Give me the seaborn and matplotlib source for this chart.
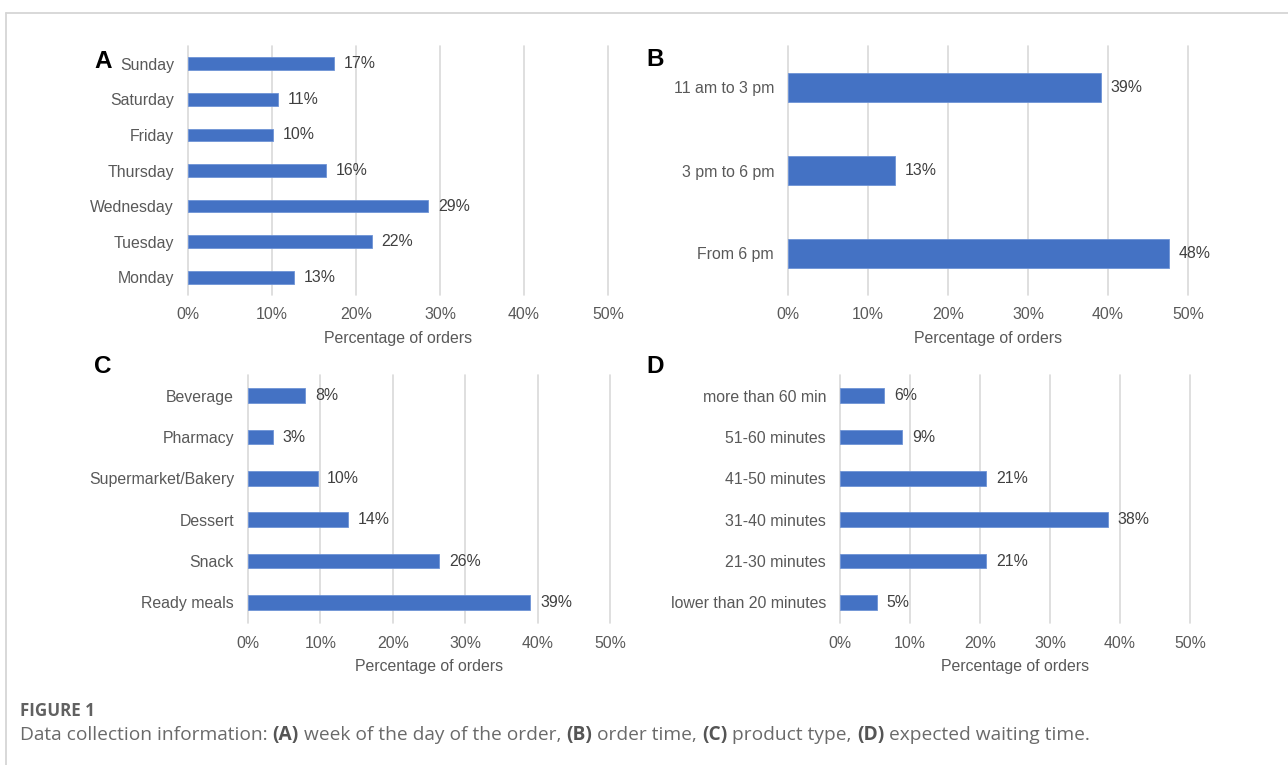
import matplotlib
matplotlib.use("Agg")
import matplotlib.pyplot as plt
import seaborn as sns
import pandas as pd
from matplotlib.lines import Line2D
from matplotlib.font_manager import FontProperties

# ---------------- data ----------------
days = ["Sunday", "Saturday", "Friday", "Thursday", "Wednesday", "Tuesday", "Monday"]
days_pct = [17.4, 10.7, 10.1, 16.4, 28.6, 21.9, 12.6]

times = ["11 am to 3 pm", "3 pm to 6 pm", "From 6 pm"]
times_pct = [39.1, 13.4, 47.6]

products = ["Beverage", "Pharmacy", "Supermarket/Bakery", "Dessert", "Snack", "Ready meals"]
products_pct = [7.9, 3.4, 9.6, 13.8, 26.4, 39.0]

waits = ["more than 60 min", "51-60 minutes", "41-50 minutes", "31-40 minutes",
         "21-30 minutes", "lower than 20 minutes"]
waits_pct = [6.3, 8.9, 20.9, 38.3, 20.9, 5.3]

x_ticks = [0, 10, 20, 30, 40, 50]
x_tick_labels = ["0%", "10%", "20%", "30%", "40%", "50%"]
x_label = "Percentage of orders"
panel_letters = ["A", "B", "C", "D"]

caption_title = "FIGURE 1"
caption_parts = [
    ("Data collection information: ", "normal"),
    ("(A)", "bold"),
    (" week of the day of the order, ", "normal"),
    ("(B)", "bold"),
    (" order time, ", "normal"),
    ("(C)", "bold"),
    (" product type, ", "normal"),
    ("(D)", "bold"),
    (" expected waiting time.", "normal"),
]

# ---------------- style ----------------
W, H = 1288, 765
DPI = 100
sns.set_theme(style="white")
plt.rcParams["font.family"] = ["Liberation Sans", "DejaVu Sans"]

BAR = "#4472C4"
GRID = "#D9D9D9"
TICK_C = "#595959"
LAB_C = "#404040"
FS = 11.4

fig = plt.figure(figsize=(W / DPI, H / DPI), dpi=DPI)
fig.patch.set_facecolor("white")


def px_axes(x0, x50, ytop, ybot):
    return fig.add_axes([x0 / W, 1 - ybot / H, (x50 - x0) / W, (ybot - ytop) / H])


panels = [
    (days, days_pct, (188, 608, 46, 295)),
    (times, times_pct, (788, 1188, 46, 295)),
    (products, products_pct, (248, 610, 375, 623)),
    (waits, waits_pct, (840, 1190, 375, 623)),
]

for cats, vals, geom in panels:
    ax = px_axes(*geom)
    df = pd.DataFrame({"cat": cats, "pct": vals})
    sns.barplot(data=df, x="pct", y="cat", order=cats, color=BAR, width=0.36,
                saturation=1, edgecolor="#6E93D6", linewidth=0.6, ax=ax)
    ax.set_xlim(0, 50)
    ax.set_xticks(x_ticks)
    ax.set_xticklabels(x_tick_labels)
    ax.grid(axis="x", color=GRID, linewidth=1.2)
    ax.grid(axis="y", visible=False)
    for gl in ax.get_xgridlines():
        gl.set_clip_on(False)
    ax.set_axisbelow(True)
    for s in ax.spines.values():
        s.set_visible(False)
    ax.tick_params(axis="x", length=0, pad=9, labelsize=FS, labelcolor=TICK_C)
    ax.tick_params(axis="y", length=0, pad=10, labelsize=FS, labelcolor=TICK_C)
    ax.set_ylabel("")
    ax.set_xlabel(x_label, fontsize=FS, color=TICK_C, labelpad=6)
    for cont in ax.containers:
        ax.bar_label(cont, labels=[f"{v:.0f}%" for v in vals], padding=7,
                     fontsize=FS, color=LAB_C)

# panel letters
letter_pos = [(103, 62), (655, 60), (103, 366), (655, 366)]
for letter, (lx, ly) in zip(panel_letters, letter_pos):
    fig.text(lx / W, 1 - ly / H, letter, fontsize=17.5, fontweight="bold",
             color="black", ha="center", va="center")

# frame lines
fig.add_artist(Line2D([6 / W, 1], [1 - 13 / H, 1 - 13 / H], color="#D5D5D5", lw=1.3))
fig.add_artist(Line2D([6 / W, 6 / W], [0, 1 - 13 / H], color="#D5D5D5", lw=1.3))

# caption
CAP_FONT = ["Open Sans", "DejaVu Sans"]
renderer = fig.canvas.get_renderer()


def text_width(s, weight, size):
    fp = FontProperties(family=CAP_FONT, size=size, weight=weight)
    w1, _, _ = renderer.get_text_width_height_descent("x" + s + "x", fp, ismath=False)
    w0, _, _ = renderer.get_text_width_height_descent("xx", fp, ismath=False)
    return w1 - w0


# choose sizes so the caption spans the same width as in the figure
base = 10.0
line_w = sum(text_width(s, wt, base) for s, wt in caption_parts)
CAP_FS = base * (1070.0 / line_w)
title_w = text_width(caption_title, "bold", base)
TITLE_FS = base * (75.0 / title_w)

fig.text(20 / W, 1 - 711 / H, caption_title, fontsize=TITLE_FS, fontweight="bold",
         color="#616161", family=CAP_FONT, ha="left", va="center")

x = 20.0
for s, wt in caption_parts:
    fig.text(x / W, 1 - 735 / H, s, fontsize=CAP_FS, fontweight=wt,
             color="#555555" if wt == "bold" else "#6A6A6A",
             family=CAP_FONT, ha="left", va="center")
    x += text_width(s, wt, CAP_FS)

fig.savefig("out.png", dpi=DPI, facecolor="white")
